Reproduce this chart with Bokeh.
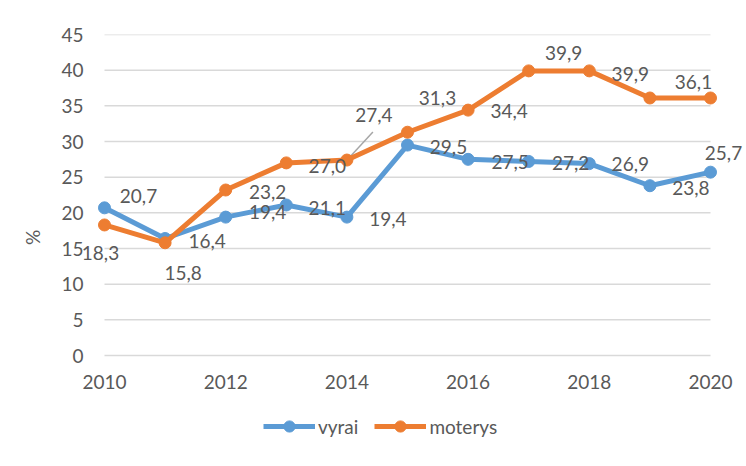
from bokeh.plotting import figure
from bokeh.models import FixedTicker, Legend, LegendItem, ColumnDataSource, Range1d
from bokeh.core.properties import value
from bokeh.embed import file_html
from bokeh.resources import INLINE

# ---- data ----
years = [2010, 2011, 2012, 2013, 2014, 2015, 2016, 2017, 2018, 2019, 2020]
vyrai = [20.7, 16.4, 19.4, 21.1, 19.4, 29.5, 27.5, 27.2, 26.9, 23.8, 25.7]
moterys = [18.3, 15.8, 23.2, 27.0, 27.4, 31.3, 34.4, 39.9, 39.9, 36.1, 36.1]
series_names = ["vyrai", "moterys"]
x_ticks = [2010, 2012, 2014, 2016, 2018, 2020]
y_ticks = [0, 5, 10, 15, 20, 25, 30, 35, 40, 45]
y_axis_title = "%"

# ---- label placement (pixels, style only) ----
vyrai_dx = [34, 42, 42, 41, 41, 41, 42, 42, 41, 41, 13]
vyrai_dy = [-12, 2, -5, 3, 2, 2, 3, 2, 0, 2, -19]
moterys_dx = [-4, 18, 42, 41, 27, 30, 41, 35, 41, 44, -17]
moterys_dy = [28, 30, 2, 3, -45, -34, 1, -18, 3, -16, -16]
moterys_show = [1, 1, 1, 1, 1, 1, 1, 1, 1, 0, 1]

BLUE = "#5B9BD5"
ORANGE = "#ED7D31"
TXT = "#595959"
GRID = "#D9D9D9"
FONT = "Lato"
FS = "19px"

# ---- layout (pixels) ----
W, H = 744, 464
LEFT, RIGHT, TOP, BOTTOM = 80, 0, 34, 24
PX_YEAR = 60.6      # pixels per year on the x scale
PX_UNIT = 321 / 45  # pixels per percent on the y scale
frame_w = W - LEFT - RIGHT
frame_h = H - TOP - BOTTOM
x0 = years[0] - 24 / PX_YEAR
x1 = x0 + frame_w / PX_YEAR
y1 = y_ticks[-1]
y0 = y1 - frame_h / PX_UNIT

p = figure(width=W, height=H, output_backend="svg", toolbar_location=None,
           x_range=Range1d(x0, x1), y_range=Range1d(y0, y1),
           min_border_left=LEFT, min_border_right=RIGHT, min_border_top=TOP,
           min_border_bottom=BOTTOM)
p.outline_line_color = None
p.background_fill_color = "white"
p.border_fill_color = "white"

# axes
p.xaxis.ticker = FixedTicker(ticks=x_ticks)
p.yaxis.ticker = FixedTicker(ticks=y_ticks)
for ax in (p.xaxis, p.yaxis):
    ax.axis_line_color = None
    ax.major_tick_line_color = None
    ax.minor_tick_line_color = None
    ax.major_tick_out = 0
    ax.major_tick_in = 0
    ax.minor_tick_out = 0
    ax.minor_tick_in = 0
    ax.major_label_text_font = FONT
    ax.major_label_text_font_size = FS
    ax.major_label_text_color = TXT
p.xaxis.fixed_location = -19 / PX_UNIT
p.xaxis.major_label_standoff = 0
p.yaxis.major_label_standoff = -3
p.yaxis.axis_label = y_axis_title
p.yaxis.axis_label_text_font = FONT
p.yaxis.axis_label_text_font_size = FS
p.yaxis.axis_label_text_font_style = "normal"
p.yaxis.axis_label_text_color = TXT
p.yaxis.axis_label_standoff = 14

# gridlines only across the data span
p.xgrid.grid_line_color = None
p.ygrid.grid_line_color = None
p.segment(x0=[years[0]] * len(y_ticks), y0=y_ticks,
          x1=[years[-1]] * len(y_ticks), y1=y_ticks,
          line_color=GRID, line_width=1.5)

def fmt(v):
    return f"{v:.1f}".replace(".", ",")

src_v = ColumnDataSource(dict(x=years, y=vyrai, t=[fmt(v) for v in vyrai],
                              dx=vyrai_dx, dy=vyrai_dy, a=[1] * len(years)))
src_m = ColumnDataSource(dict(x=years, y=moterys, t=[fmt(v) for v in moterys],
                              dx=moterys_dx, dy=moterys_dy, a=moterys_show))

# leader line for the moved 2014 label of moterys
i14 = years.index(2014)
p.segment(x0=[years[i14] + 2 / PX_YEAR], y0=[moterys[i14] + 2 / PX_UNIT],
          x1=[years[i14] + 26 / PX_YEAR], y1=[moterys[i14] + 28 / PX_UNIT],
          line_color="#A6A6A6", line_width=1.5)

lv = p.line("x", "y", source=src_v, line_color=BLUE, line_width=5)
cv = p.scatter("x", "y", source=src_v, marker="circle", size=12, fill_color=BLUE, line_color=BLUE)
lm = p.line("x", "y", source=src_m, line_color=ORANGE, line_width=5)
cm = p.scatter("x", "y", source=src_m, marker="circle", size=12, fill_color=ORANGE, line_color=ORANGE)

for src in (src_v, src_m):
    p.text("x", "y", text="t", source=src, x_offset="dx", y_offset="dy",
           text_alpha="a", text_font=value(FONT), text_font_size=FS,
           text_color=TXT, text_align="center", text_baseline="middle")

legend = Legend(items=[LegendItem(label=series_names[0], renderers=[lv, cv]),
                       LegendItem(label=series_names[1], renderers=[lm, cm])],
                orientation="horizontal", location=(183, 0),
                glyph_width=52, glyph_height=28, label_standoff=3, spacing=16,
                label_text_font=FONT, label_text_font_size=FS,
                label_text_color=TXT, border_line_color=None,
                background_fill_alpha=0, margin=0, padding=0)
p.add_layout(legend, "center")

open("out.html", "w").write(file_html(p, INLINE))
